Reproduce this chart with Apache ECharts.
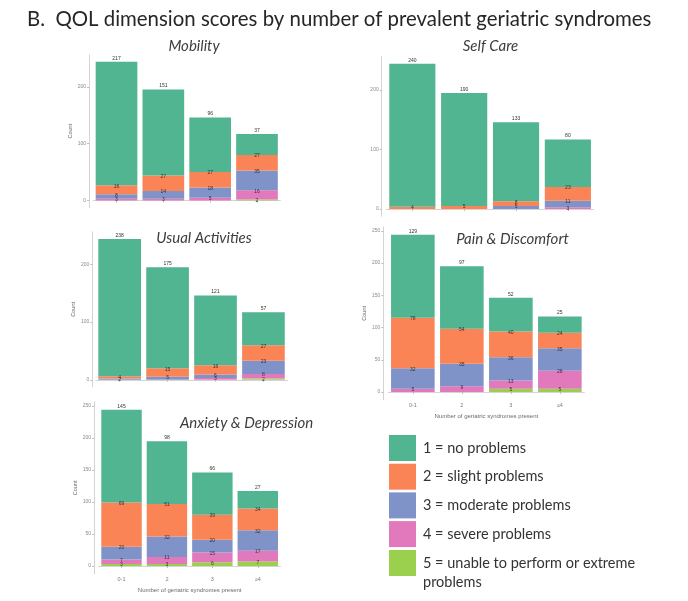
<!DOCTYPE html>
<html>
<head>
<meta charset="utf-8">
<script src="https://cdn.jsdelivr.net/npm/echarts@6/dist/echarts.min.js"></script>
<style>html,body{margin:0;padding:0;background:#fff;}#c{width:688px;height:601px;}</style>
</head>
<body>
<div id="c"></div>
<script>
// ---- data ----
const categories = ['0-1', '2', '3', '≥4'];
const levelNames = ['1 = no problems', '2 = slight problems', '3 = moderate problems', '4 = severe problems', '5 = unable to perform or extreme\nproblems'];
const panelTitles = ['Mobility', 'Self Care', 'Usual Activities', 'Pain & Discomfort', 'Anxiety & Depression'];
const ticks100 = [0, 100, 200];
const ticks50 = [0, 50, 100, 150, 200, 250];

const mobility1 = [217, 151, 96, 37];
const mobility2 = [16, 27, 27, 27];
const mobility3 = [8, 14, 18, 35];
const mobility4 = [3, 3, 5, 16];
const mobility5 = [0, 0, 0, 2];

const selfCare1 = [240, 190, 133, 80];
const selfCare2 = [4, 5, 8, 23];
const selfCare3 = [0, 0, 5, 11];
const selfCare4 = [0, 0, 0, 3];
const selfCare5 = [0, 0, 0, 0];

const usual1 = [238, 175, 121, 57];
const usual2 = [4, 15, 16, 27];
const usual3 = [2, 5, 6, 23];
const usual4 = [0, 0, 3, 8];
const usual5 = [0, 0, 0, 2];

const pain1 = [129, 97, 52, 25];
const pain2 = [78, 54, 40, 24];
const pain3 = [32, 35, 36, 35];
const pain4 = [5, 9, 13, 28];
const pain5 = [0, 0, 5, 5];

const anx1 = [145, 98, 66, 27];
const anx2 = [69, 51, 39, 34];
const anx3 = [20, 32, 20, 32];
const anx4 = [7, 11, 15, 17];
const anx5 = [3, 3, 6, 7];

const panelData = [
  [mobility1, mobility2, mobility3, mobility4, mobility5],
  [selfCare1, selfCare2, selfCare3, selfCare4, selfCare5],
  [usual1, usual2, usual3, usual4, usual5],
  [pain1, pain2, pain3, pain4, pain5],
  [anx1, anx2, anx3, anx4, anx5]
];

// ---- layout / style ----
const colors = ['#50b590', '#fb8457', '#8093c8', '#e379bd', '#9bd04f'];
const grids = [
  {left: 93.1, top: 54.8, width: 187.3, height: 152.7},
  {left: 386.4, top: 56.6, width: 207.4, height: 159.7},
  {left: 95.7, top: 231.9, width: 191.7, height: 154.9},
  {left: 388.35, top: 226.8, width: 196, height: 173.1},
  {left: 98.8, top: 402.0, width: 181.7, height: 171.8}
];
const yOffsets = [4.1, 4.7, 3.4, 5, 4.8];
const yTicks = [ticks100, ticks100, ticks100, ticks50, ticks50];
const showCount = [true, false, true, true, true];
const showXLabels = [false, false, false, true, true];
const titlePos = [[194, 46], [490.5, 46], [204, 238.3], [512.5, 239], [246.5, 422.7]];
const axisFont = 'Liberation Sans';

const xAxes = [], yAxes = [], series = [], graphics = [];
grids.forEach((g, i) => {
  xAxes.push({
    gridIndex: i, type: 'category', data: categories,
    axisLine: {show: true, lineStyle: {color: '#d4d4d4', width: 1}},
    axisTick: {show: true, alignWithLabel: true, length: 2, lineStyle: {color: '#bdbdbd'}},
    axisLabel: {show: showXLabels[i], fontSize: 5.5, color: '#7a7a7a', margin: 3, fontFamily: axisFont},
    name: showXLabels[i] ? 'Number of geriatric syndromes present' : '',
    nameLocation: 'middle', nameGap: 13.4,
    nameTextStyle: {fontSize: 6, color: '#6a6a6a', fontFamily: axisFont},
    splitLine: {show: false}
  });
  yAxes.push({
    gridIndex: i, type: 'value', min: -12.2, max: 256.2, offset: yOffsets[i],
    axisLine: {show: true, lineStyle: {color: '#d4d4d4', width: 1}},
    axisTick: {show: true, length: 2, customValues: yTicks[i], lineStyle: {color: '#bdbdbd'}},
    axisLabel: {show: true, customValues: yTicks[i], fontSize: 5, color: '#8a8a8a', margin: 3, fontFamily: axisFont},
    splitLine: {show: false},
    name: showCount[i] ? 'Count' : '',
    nameLocation: 'middle', nameGap: 16,
    nameTextStyle: {fontSize: 5.5, color: '#6a6a6a', fontFamily: axisFont}
  });
  // bottom level first so level 1 sits on top
  for (let lv = 4; lv >= 0; lv--) {
    series.push({
      type: 'bar', name: levelNames[lv], stack: 'p' + i,
      xAxisIndex: i, yAxisIndex: i,
      data: panelData[i][lv],
      barWidth: '89%',
      itemStyle: {color: colors[lv]},
      label: {
        show: true, position: 'top', distance: lv === 0 ? 1 : -3.5,
        fontSize: 5, color: '#333', fontFamily: axisFont,
        formatter: p => (p.value > 0 ? String(p.value) : '')
      },
      emphasis: {disabled: true}
    });
  }
  graphics.push({
    type: 'text', x: titlePos[i][0], y: titlePos[i][1],
    style: {text: panelTitles[i], font: 'italic 15px Lato', fill: '#3d3d3d', align: 'center', verticalAlign: 'middle', textAlign: 'center', textVerticalAlign: 'middle'}
  });
});

graphics.push({
  type: 'text', x: 27, y: 19,
  style: {text: 'B.  QOL dimension scores by number of prevalent geriatric syndromes', font: '20.4px Lato', fill: '#262626', verticalAlign: 'middle', textVerticalAlign: 'middle'}
});

const legendCommon = {
  orient: 'vertical', padding: 0, width: 290, height: 200,
  itemWidth: 27, itemHeight: 26, itemGap: 2.7, icon: 'rect',
  selectedMode: false,
  textStyle: {fontSize: 14.5, fontFamily: 'Lato', color: '#333', lineHeight: 19, padding: [0, 0, 0, 2]}
};

const chart = echarts.init(document.getElementById('c'), null, {renderer: 'canvas'});
chart.setOption({
  animation: false,
  backgroundColor: '#ffffff',
  color: colors,
  grid: grids,
  xAxis: xAxes,
  yAxis: yAxes,
  series: series,
  legend: [
    Object.assign({}, legendCommon, {data: levelNames.slice(0, 4), left: 389, top: 435}),
    Object.assign({}, legendCommon, {
      data: levelNames.slice(4), left: 389, top: 534.5,
      formatter: name => '\n' + name
    })
  ],
  graphic: graphics
});
</script>
</body>
</html>
